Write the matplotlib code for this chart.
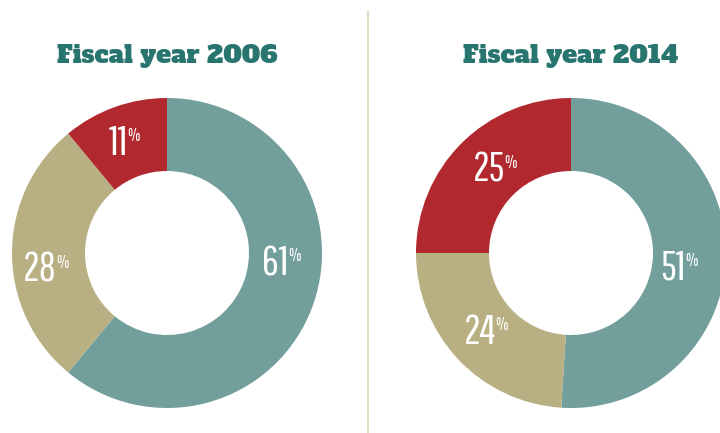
import matplotlib.pyplot as plt

years = ["Fiscal year 2006", "Fiscal year 2014"]
shares_2006 = [61, 28, 11]
shares_2014 = [51, 24, 25]
colors = ["#729e9c", "#b8b083", "#b1292e"]

# where each chart sits (pixels) and where its labels end
centers = [(167, 180), (571, 180)]
label_pos = [[(289, 170), (57, 163), (128, 290)],
             [(686, 165), (496, 101), (505, 263)]]

num_font = ["Pathway Gothic One", "Bebas Neue", "DejaVu Sans"]
title_font = ["Alfa Slab One", "Arvo", "DejaVu Serif"]

fig = plt.figure(figsize=(7.2, 4.33), dpi=100)
ax = fig.add_axes([0, 0, 1, 1])

for i, shares in enumerate([shares_2006, shares_2014]):
    cx, cy = centers[i]
    ax.pie(shares, colors=colors, startangle=90, counterclock=False,
           radius=155, center=(cx, cy), frame=True,
           wedgeprops=dict(width=73, linewidth=0))
    ax.text(cx, 377, years[i], ha="center", va="center", fontsize=18,
            family=title_font, color="#28756f")
    for v, (lx, ly) in zip(shares, label_pos[i]):
        t = ax.text(lx, ly, str(v), ha="right", va="center", fontsize=30,
                    family=num_font, color="white")
        ax.annotate("%", xy=(0.97, 0.9), xycoords=t, ha="left", va="top",
                    fontsize=13, color="white", family=num_font)

ax.set_xlim(0, 720)
ax.set_ylim(0, 433)
ax.set_aspect("equal")
ax.axis("off")
ax.plot([368, 368], [1, 421], color="#e2dcc6", linewidth=1.5)

fig.savefig("out.png", dpi=100)
